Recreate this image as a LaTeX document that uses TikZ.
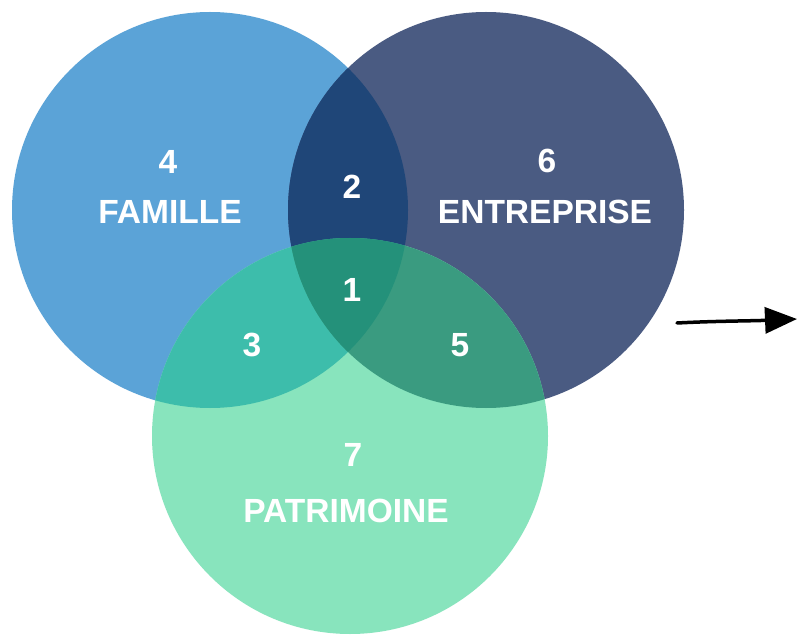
\documentclass[tikz,border=0pt]{standalone}
\usepackage{fontspec}
\setmainfont{Liberation Sans}
\usetikzlibrary{arrows.meta}
\definecolor{cfam}{HTML}{5BA3D7}
\definecolor{cent}{HTML}{4A5B82}
\definecolor{cpat}{HTML}{88E4BD}
\definecolor{ctwo}{HTML}{1F4678}
\definecolor{cthree}{HTML}{3DBDAB}
\definecolor{cfive}{HTML}{3A9B80}
\definecolor{cone}{HTML}{24917A}
\tikzset{
  lbl/.style={text=white, font=\bfseries\fontsize{33.5}{35}\selectfont, inner sep=0pt, anchor=center},
}
\begin{document}
\begin{tikzpicture}[x=1pt,y=-1pt]
\useasboundingbox (0,0) rectangle (797,636);
\fill[white] (0,0) rectangle (797,636);
\def\R{198}
\coordinate (cf) at (210,210);
\coordinate (ce) at (486,210);
\coordinate (cp) at (350,436);
% base circles
\fill[cfam] (cf) circle (\R);
\fill[cent] (ce) circle (\R);
\fill[cpat] (cp) circle (\R);
% pairwise overlaps
\begin{scope}
  \clip (cf) circle (\R);
  \fill[ctwo] (ce) circle (\R);
  \fill[cthree] (cp) circle (\R);
\end{scope}
\begin{scope}
  \clip (ce) circle (\R);
  \fill[cfive] (cp) circle (\R);
\end{scope}
\begin{scope}
  \clip (cf) circle (\R);
  \clip (ce) circle (\R);
  \fill[cone] (cp) circle (\R);
\end{scope}
% labels
\node[lbl] (n4) at (168,162) {4};
\node[lbl] (tfam) at (170,212) {FAMILLE};
\node[lbl] (n2) at (352,187) {2};
\node[lbl] (n6) at (547,161) {6};
\node[lbl] (tent) at (545,212) {ENTREPRISE};
\node[lbl] (n1) at (352,290) {1};
\node[lbl] (n3) at (252,345) {3};
\node[lbl] (n5) at (460,345) {5};
\node[lbl] (n7) at (353,455) {7};
\node[lbl] (tpat) at (346,511) {PATRIMOINE};
% arrow
\coordinate (as) at (677,323);
\coordinate (ae) at (797,319);
\draw[line width=3.5pt, line cap=round, -{Triangle[length=32pt,width=26pt]}]
  (as) .. controls (715,321) and (750,321) .. (ae);
\end{tikzpicture}
\end{document}
